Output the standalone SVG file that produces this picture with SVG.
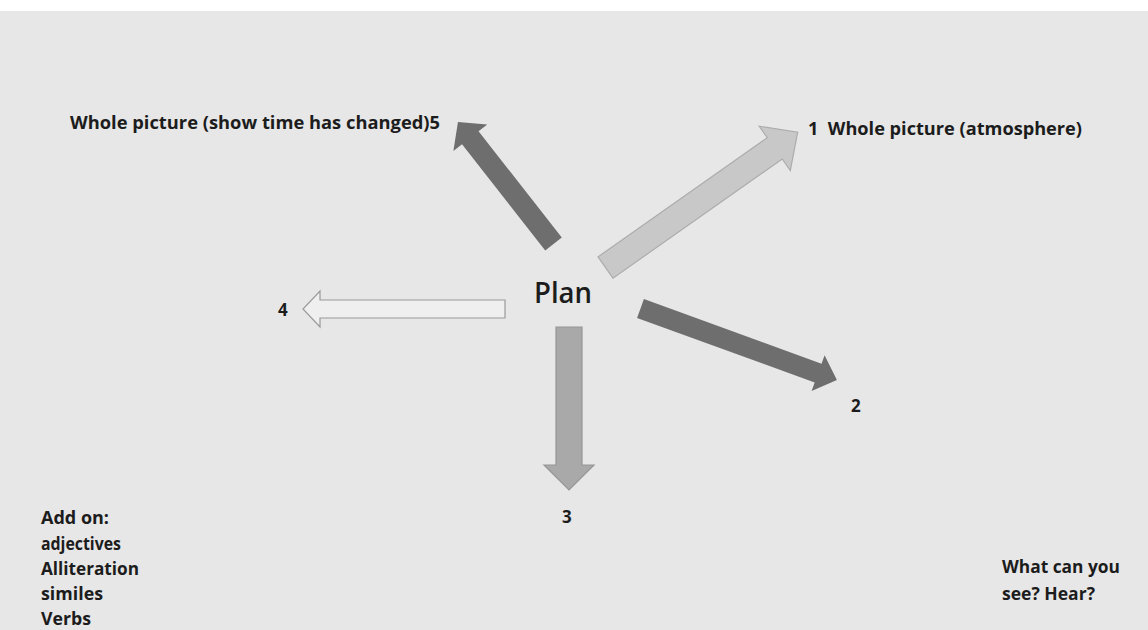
<svg xmlns="http://www.w3.org/2000/svg" width="1148" height="630" viewBox="0 0 1148 630">
<style>
.t{font-family:"Open Sans","Liberation Sans",sans-serif;font-weight:700;font-size:17px;fill:#1c1c1c}
.plan{font-family:"Open Sans","Liberation Sans",sans-serif;font-weight:600;font-size:28px;fill:#1c1c1c}
.dark{fill:#6e6e6e;stroke:none}
.light{fill:#c8c8c8;stroke:#acacac;stroke-width:1.2}
.mid{fill:#a9a9a9;stroke:#969696;stroke-width:1.2}
.hollow{fill:#efefef;stroke:#9a9a9a;stroke-width:1.2}
</style>
<rect x="0" y="0" width="1148" height="630" fill="#ffffff"/>
<rect x="0" y="11" width="1148" height="619" fill="#e7e7e7"/>
<g id="connectors">
<polygon id="arrow1" class="light" transform="translate(605.5,267.5) rotate(-35.14)" points="0,-13 207,-13 207,-27 235,0 207,27 207,13 0,13"/>
<polygon id="arrow2" class="dark" transform="translate(640.5,308.5) rotate(20)" points="0,-10 189,-10 189,-19 209,0 189,19 189,10 0,10"/>
<polygon id="arrow3" class="mid" transform="translate(569,327) rotate(90)" points="0,-13 138,-13 138,-25 163,0 138,25 138,13 0,13"/>
<polygon id="arrow4" class="hollow" transform="translate(505,309) rotate(180)" points="0,-9 185,-9 185,-18 202,0 185,18 185,9 0,9"/>
<polygon id="arrow5" class="dark" transform="translate(553.5,244) rotate(-128.05)" points="0,-10.5 135,-10.5 135,-21.5 155,0 135,21.5 135,10.5 0,10.5"/>
</g>
<g id="plan"><text class="plan" x="534" y="303" textLength="58" lengthAdjust="spacingAndGlyphs">Plan</text></g>
<g id="label1"><text class="t" x="808" y="135" textLength="274" lengthAdjust="spacingAndGlyphs" xml:space="preserve">1  Whole picture (atmosphere)</text></g>
<g id="label2"><text class="t" x="851" y="412">2</text></g>
<g id="label3"><text class="t" x="562" y="523">3</text></g>
<g id="label4"><text class="t" x="278" y="316">4</text></g>
<g id="label5"><text class="t" x="70" y="129" textLength="370" lengthAdjust="spacingAndGlyphs">Whole picture (show time has changed)5</text></g>
<g id="addon">
<text class="t" x="41" y="524" textLength="68" lengthAdjust="spacingAndGlyphs">Add on:</text>
<text class="t" x="41" y="550" textLength="80" lengthAdjust="spacingAndGlyphs">adjectives</text>
<text class="t" x="41" y="575" textLength="98" lengthAdjust="spacingAndGlyphs">Alliteration</text>
<text class="t" x="41" y="600" textLength="62" lengthAdjust="spacingAndGlyphs">similes</text>
<text class="t" x="41" y="625" textLength="50" lengthAdjust="spacingAndGlyphs">Verbs</text>
</g>
<g id="question">
<text class="t" x="1002" y="573" textLength="118" lengthAdjust="spacingAndGlyphs">What can you</text>
<text class="t" x="1002" y="600" textLength="93" lengthAdjust="spacingAndGlyphs">see? Hear?</text>
</g>
</svg>
